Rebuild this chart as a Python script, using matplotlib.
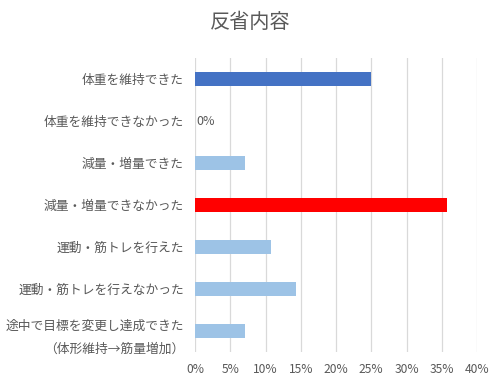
import matplotlib
matplotlib.use("Agg")
import matplotlib.pyplot as plt
from matplotlib.ticker import PercentFormatter

plt.rcParams['font.family'] = ['Noto Sans CJK JP', 'DejaVu Sans']

categories = [
    "体重を維持できた",
    "体重を維持できなかった",
    "減量・増量できた",
    "減量・増量できなかった",
    "運動・筋トレを行えた",
    "運動・筋トレを行えなかった",
    "途中で目標を変更し達成できた\n（体形維持→筋量増加）",
]
values = [25.0, 0.0, 7.14, 35.71, 10.71, 14.29, 7.14]
colors = ["#4472C4", "#9DC3E6", "#9DC3E6", "#FF0000", "#9DC3E6", "#9DC3E6", "#9DC3E6"]
xticks = [0, 5, 10, 15, 20, 25, 30, 35, 40]

grey = "#595959"

fig = plt.figure(figsize=(5, 3.8), dpi=100)
ax = fig.add_axes([0.39, 0.074, 0.564, 0.773])

y = range(len(categories))
ax.barh(y, values, height=0.33, color=colors, zorder=3)

# zero value gets its data label
for i, v in enumerate(values):
    if v == 0:
        ax.text(v + 0.2, i, "0%", va="center", ha="left", fontsize=9, color=grey)

ax.set_ylim(len(categories) - 0.5, -0.5)
ax.set_yticks(list(y))
ax.set_yticklabels(categories, fontsize=9.2, color=grey, linespacing=2.0)
ax.set_xlim(0, 40)
ax.set_xticks(xticks)
ax.xaxis.set_major_formatter(PercentFormatter(decimals=0))
ax.tick_params(axis="x", labelsize=8.7, labelcolor=grey, length=0, pad=8)
ax.tick_params(axis="y", length=0, pad=8)
ax.grid(axis="x", color="#D9D9D9", linewidth=0.9, zorder=0)
for s in ax.spines.values():
    s.set_visible(False)

fig.text(0.5, 0.94, "反省内容", ha="center", va="center", fontsize=14.5, color=grey)

fig.savefig("out.png", dpi=100, facecolor="white")
